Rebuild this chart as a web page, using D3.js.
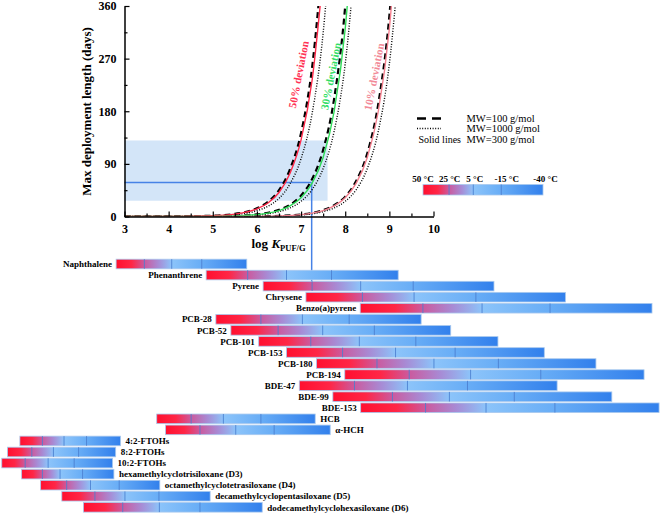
<!DOCTYPE html>
<html><head><meta charset="utf-8">
<script src="https://cdn.jsdelivr.net/npm/d3@7"></script>
<style>
body{margin:0;background:#fff}
svg{display:block}
</style>
</head><body>
<svg id="c" width="661" height="514"></svg>
<script>
// ---------------- DATA ----------------
const xTicks = [3,4,5,6,7,8,9,10];
const xMinorTicks = [3.5,4.5,5.5,6.5,7.5,8.5,9.5];
const yTicks = [0,90,180,270,360];
const yMinorTicks = [45,135,225,315];

// Max deployment length (days) vs log K_PUF/G
const dev50_mw100  = [[3,0],[4,0.1],[5,1.4],[5.5,4.5],[6,14],[6.25,25],[6.5,45],[6.75,81],[7,143],[7.25,255],[7.5,453]];
const dev50_mw300  = [[3,0],[4,0.1],[5,1.3],[5.5,4.1],[6,13],[6.25,23],[6.5,41],[6.75,74],[7,131],[7.25,233],[7.5,414]];
const dev50_mw1000 = [[3,0],[4,0.1],[5,1.0],[5.5,3.1],[6,9.9],[6.25,17.6],[6.5,31],[6.75,56],[7,99],[7.25,176],[7.5,314],[7.75,558]];
const dev30_mw100  = [[3,0],[4,0],[5,0.4],[5.5,1.1],[6,3.6],[6.25,6.4],[6.5,11.4],[6.75,20],[7,36],[7.25,64],[7.5,114],[7.75,202],[8,360],[8.25,640]];
const dev30_mw300  = [[3,0],[4,0],[5,0.3],[5.5,1.0],[6,3.2],[6.25,5.7],[6.5,10.1],[6.75,18],[7,32],[7.25,57],[7.5,101],[7.75,180],[8,321],[8.25,571]];
const dev30_mw1000 = [[3,0],[4,0],[5,0.3],[5.5,0.8],[6,2.6],[6.25,4.6],[6.5,8.2],[6.75,14.6],[7,26],[7.25,46],[7.5,82],[7.75,146],[8,261],[8.25,463]];
const dev10_mw100  = [[3,0],[5,0],[6,0.3],[6.5,1.1],[7,3.4],[7.25,6.1],[7.5,10.8],[7.75,19.3],[8,34],[8.25,61],[8.5,108],[8.75,193],[9,343],[9.25,610]];
const dev10_mw300  = [[3,0],[5,0],[6,0.3],[6.5,1.0],[7,3.2],[7.25,5.7],[7.5,10.1],[7.75,18],[8,32],[8.25,57],[8.5,101],[8.75,180],[9,321],[9.25,571]];
const dev10_mw1000 = [[3,0],[5,0],[6,0.3],[6.5,0.8],[7,2.6],[7.25,4.6],[7.5,8.2],[7.75,14.6],[8,26],[8.25,46],[8.5,82],[8.75,146],[9,261],[9.25,463]];

const deviationLabels = ["50% deviation","30% deviation","10% deviation"];
const deviationLabelPos = [[6.94,243],[7.67,240],[8.65,239]]; // [logK, days] of label centre

// highlighted range
const shadeK = [3, 7.6];
const shadeDays = [27, 130];
const markK = 7.24;
const markDays = 58;

// compounds and log K_PUF/G at 50, 25, 5, -15, -40 °C
const temps = [50, 25, 5, -15, -40];
const tempLabels = ["50 °C","25 °C","5 °C","-15 °C","-40 °C"];
const compounds = ["Naphthalene","Phenanthrene","Pyrene","Chrysene","Benzo(a)pyrene",
  "PCB-28","PCB-52","PCB-101","PCB-153","PCB-180","PCB-194",
  "BDE-47","BDE-99","BDE-153","HCB","α-HCH",
  "4:2-FTOHs","8:2-FTOHs","10:2-FTOHs",
  "hexamethylcyclotrisiloxane (D3)","octamethylcyclotetrasiloxane (D4)",
  "decamethylcyclopentasiloxane (D5)","dodecamethylcyclohexasiloxane (D6)"];
const logK = [
  [2.81,3.45,4.07,4.75,5.77],
  [4.85,5.79,6.67,7.69,9.20],
  [6.14,7.25,8.35,9.54,11.37],
  [7.11,8.39,9.56,10.96,12.99],
  [8.34,9.76,11.10,12.64,14.95],
  [5.07,6.09,7.03,8.09,9.72],
  [5.41,6.48,7.49,8.66,10.39],
  [6.04,7.22,8.32,9.60,11.46],
  [6.67,7.94,9.14,10.49,12.51],
  [7.35,8.72,10.01,11.47,13.68],
  [7.99,9.45,10.84,12.43,14.77],
  [6.96,8.21,9.41,10.77,12.80],
  [7.72,9.07,10.36,11.83,14.04],
  [8.35,9.82,11.19,12.75,15.11],
  [3.73,4.51,5.24,6.09,7.32],
  [3.93,4.71,5.52,6.39,7.66],
  [0.63,1.14,1.63,2.14,2.91],
  [0.35,0.90,1.39,1.96,2.80],
  [0.22,0.75,1.27,1.86,2.73],
  [0.67,1.14,1.54,2.05,2.76],
  [1.10,1.69,2.23,2.88,3.80],
  [1.58,2.33,3.01,3.78,4.94],
  [2.07,2.96,3.79,4.71,6.12]
];
const labelSide = ["L","L","L","L","L","L","L","L","L","L","L","L","L","L","R","R","R","R","R","R","R","R","R"];

// ---------------- DRAW ----------------
const svg = d3.select("#c");

// choose a Times-metric serif font that is really available
const fontCands = ["Liberation Serif","Times New Roman","Tinos","Nimbus Roman","Times","DejaVu Serif","serif"];
let FONT = "serif";
{
  const t = svg.append("text").attr("x",-1000).attr("y",-1000).attr("font-size",13).attr("font-weight","bold")
    .text("Max deployment length (days)");
  let bd = 1e9;
  fontCands.forEach(f=>{
    t.attr("font-family", `'${f}'`);
    const w = t.node().getComputedTextLength();
    const d = Math.abs(w-167);
    if (d < bd) { bd = d; FONT = f; }
  });
  t.remove();
}

const x = d3.scaleLinear().domain([3,10]).range([124.5,433.5]);
const y = d3.scaleLinear().domain([0,360]).range([216.5,6]);

const defs = svg.append("defs");
defs.append("clipPath").attr("id","plotclip").append("rect")
  .attr("x", x(3)).attr("y", y(360)).attr("width", x(10)-x(3)).attr("height", y(0)-y(360));

// shaded box
svg.append("rect")
  .attr("x", x(shadeK[0])).attr("y", y(shadeDays[1]))
  .attr("width", x(shadeK[1])-x(shadeK[0])).attr("height", y(shadeDays[0])-y(shadeDays[1]))
  .attr("fill","#d3e5f8");

// rows for bars
const row = d3.scalePoint().domain(compounds).range([264, 507.3]);
const barH = 9.6;

// highlight lines
const blue = "#4682e6";
svg.append("line").attr("x1", x(3)).attr("x2", x(markK)).attr("y1", y(markDays)).attr("y2", y(markDays))
  .attr("stroke", blue).attr("stroke-width", 1.5);
svg.append("line").attr("x1", x(markK)).attr("x2", x(markK)).attr("y1", y(markDays)).attr("y2", row("Pyrene"))
  .attr("stroke", blue).attr("stroke-width", 1.5);

// curves
const line = d3.line().x(d=>x(d[0])).y(d=>y(d[1])).curve(d3.curveMonotoneX);
const cg = svg.append("g").attr("clip-path","url(#plotclip)");
const curveDefs = [
  [dev50_mw1000,"#000","1,1.6",1.4],
  [dev30_mw1000,"#000","1,1.6",1.4],
  [dev10_mw1000,"#000","1,1.6",1.4],
  [dev50_mw100,"#000","6,4",2.2],
  [dev30_mw100,"#000","6,4",2.2],
  [dev10_mw100,"#000","6,4",2.2],
  [dev50_mw300,"#ff2a4a",null,1.4],
  [dev30_mw300,"#2fdc58",null,1.4],
  [dev10_mw300,"#f4808f",null,1.4]
];
curveDefs.forEach(c=>{
  cg.append("path").attr("d", line(c[0])).attr("fill","none")
    .attr("stroke", c[1]).attr("stroke-width", c[3])
    .attr("stroke-dasharray", c[2]);
});

// deviation labels
const devColors = ["#ff3355","#33dd66","#f28a98"];
deviationLabels.forEach((t,i)=>{
  const p = deviationLabelPos[i];
  svg.append("text").attr("transform",`translate(${x(p[0])},${y(p[1])}) rotate(-79)`)
    .attr("text-anchor","middle").attr("dominant-baseline","central")
    .attr("font-size",11).attr("font-weight","bold").attr("fill",devColors[i]).text(t);
});

// axes
svg.append("g").attr("transform",`translate(0,${y(0)})`)
  .call(d3.axisBottom(x).tickValues(xTicks).tickSizeInner(-5).tickSizeOuter(0).tickPadding(8).tickFormat(d3.format("d")));
svg.append("g").attr("transform",`translate(0,${y(0)})`)
  .call(d3.axisBottom(x).tickValues(xMinorTicks).tickSizeInner(-3).tickSizeOuter(0).tickFormat(""))
  .select(".domain").remove();
svg.append("g").attr("transform",`translate(${x(3)},0)`)
  .call(d3.axisLeft(y).tickValues(yTicks).tickSizeInner(-5).tickSizeOuter(0).tickPadding(8));
svg.append("g").attr("transform",`translate(${x(3)},0)`)
  .call(d3.axisLeft(y).tickValues(yMinorTicks).tickSizeInner(-3).tickSizeOuter(0).tickFormat(""))
  .select(".domain").remove();
svg.selectAll(".domain").attr("stroke-width",1.5);
svg.selectAll(".tick line").attr("stroke-width",1.2);
svg.selectAll(".tick text").attr("font-size",12).attr("font-weight","bold");

// axis titles
svg.append("text").attr("transform","translate(91,111.5) rotate(-90)").attr("text-anchor","middle")
  .attr("font-size",13).attr("font-weight","bold").text("Max deployment length (days)");
const xt = svg.append("text").attr("x",251.5).attr("y",247.5).attr("font-size",13).attr("font-weight","bold");
xt.append("tspan").text("log ");
xt.append("tspan").attr("font-style","italic").text("K");
xt.append("tspan").attr("font-size",8.5).attr("dy",3).text("PUF/G");

// line-style legend
svg.append("line").attr("x1",417).attr("x2",441).attr("y1",118.5).attr("y2",118.5)
  .attr("stroke","#000").attr("stroke-width",2.4).attr("stroke-dasharray","9,6");
svg.append("line").attr("x1",417).attr("x2",441).attr("y1",128.5).attr("y2",128.5)
  .attr("stroke","#000").attr("stroke-width",1.3).attr("stroke-dasharray","1,1.6");
[["MW=100 g/mol",121.5],["MW=1000 g/mol",132],["MW=300 g/mol",142.5]].forEach(d=>{
  svg.append("text").attr("x",466.5).attr("y",d[1]).attr("font-size",10.5).text(d[0]);
});
svg.append("text").attr("x",418.5).attr("y",142.5).attr("font-size",10).text("Solid lines");

// gradient helper
const stopDefs = [[0,0,"#ff0f2f"],[0,0.55,"#ff2646"],[1,0,"#cb5a9e"],[1,0.5,"#a88ad4"],[2,0,"#8cc4fa"],[3,0,"#68adf6"],[4,0,"#3280ec"]];
function makeGrad(id, vals){
  const g = defs.append("linearGradient").attr("id",id).attr("x1","0").attr("x2","1").attr("y1","0").attr("y2","0");
  const span = vals[4]-vals[0];
  stopDefs.forEach(s=>{
    const a = vals[s[0]], b = s[0]<4 ? vals[s[0]+1] : vals[4];
    const off = ((a + s[1]*(b-a)) - vals[0]) / span;
    g.append("stop").attr("offset", off).attr("stop-color", s[2]);
  });
}

// temperature legend bar
const invT = temps.map(t=>1/(t+273.15));
const lx = d3.scaleLinear().domain([invT[0], invT[4]]).range([423, 543]);
makeGrad("glegend", invT);
svg.append("rect").attr("x",lx(invT[0])).attr("y",184.5).attr("width",lx(invT[4])-lx(invT[0])).attr("height",10.5)
  .attr("fill","url(#glegend)").attr("stroke","#a9c9ee").attr("stroke-width",0.8);
[1,2,3].forEach(k=>{
  svg.append("line").attr("x1",lx(invT[k])).attr("x2",lx(invT[k])).attr("y1",184.5).attr("y2",195)
    .attr("stroke","#4c7fd0").attr("stroke-width",1).attr("opacity",0.85);
});
const tlabOff = [0,0.5,1.5,5.5,2.5];
tempLabels.forEach((t,k)=>{
  svg.append("text").attr("x",lx(invT[k])+tlabOff[k]).attr("y",181.5).attr("text-anchor","middle")
    .attr("font-size",9).attr("font-weight","bold").text(t);
});

// compound bars
const bars = svg.append("g");
compounds.forEach((name,i)=>{
  const v = logK[i];
  makeGrad("gb"+i, v);
  const cy = row(name);
  bars.append("rect").attr("x",x(v[0])).attr("y",cy-barH/2).attr("width",x(v[4])-x(v[0])).attr("height",barH)
    .attr("fill",`url(#gb${i})`).attr("stroke","#a9c9ee").attr("stroke-width",0.8);
  [1,2,3].forEach(k=>{
    bars.append("line").attr("x1",x(v[k])).attr("x2",x(v[k])).attr("y1",cy-barH/2).attr("y2",cy+barH/2)
      .attr("stroke","#4c7fd0").attr("stroke-width",1).attr("opacity",0.85);
  });
  const left = labelSide[i]==="L";
  bars.append("text").attr("x", left ? x(v[0])-4 : x(v[4])+5).attr("y",cy+3.2)
    .attr("text-anchor", left ? "end" : "start")
    .attr("font-size",9).attr("font-weight","bold").text(name);
});

// apply the chosen font everywhere
svg.selectAll("g").attr("font-family", `'${FONT}'`);
svg.selectAll("text").attr("font-family", `'${FONT}'`);
</script>
</body></html>
